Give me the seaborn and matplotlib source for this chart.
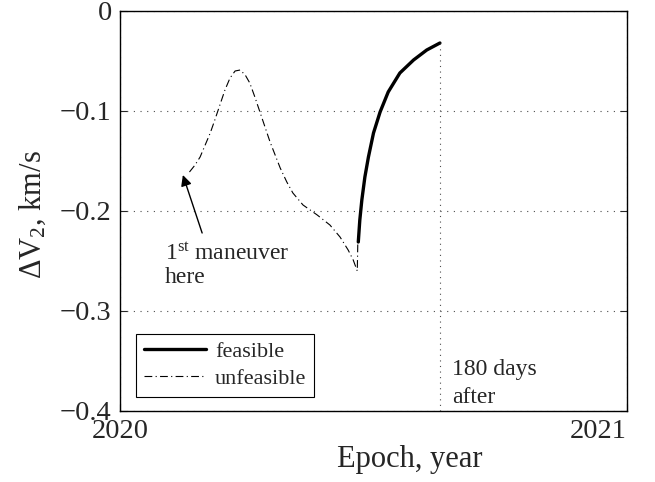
import matplotlib
matplotlib.use("Agg")
import matplotlib.pyplot as plt
import seaborn as sns
import pandas as pd

# Unfeasible branch: epoch (decimal year) and delta-V (km/s)
unf_epoch = [2020.137, 2020.148, 2020.158, 2020.168, 2020.178, 2020.187, 2020.197,
             2020.207, 2020.217, 2020.227, 2020.237, 2020.247, 2020.256, 2020.266,
             2020.276, 2020.286, 2020.296, 2020.306, 2020.316, 2020.329, 2020.341,
             2020.361, 2020.389, 2020.414, 2020.434, 2020.450, 2020.460, 2020.468,
             2020.469]
unf_dv = [-0.161, -0.154, -0.146, -0.134, -0.122, -0.109, -0.094,
          -0.079, -0.067, -0.060, -0.059, -0.064, -0.072, -0.086,
          -0.101, -0.116, -0.131, -0.144, -0.157, -0.171, -0.182,
          -0.194, -0.204, -0.214, -0.226, -0.239, -0.249, -0.260,
          -0.233]

# Feasible branch
feas_epoch = [2020.470, 2020.473, 2020.477, 2020.483, 2020.490, 2020.500,
              2020.513, 2020.529, 2020.552, 2020.579, 2020.605, 2020.631]
feas_dv = [-0.231, -0.209, -0.189, -0.166, -0.146, -0.122,
           -0.101, -0.081, -0.062, -0.049, -0.039, -0.032]

x_ticks = [2020, 2021]
x_ticklabels = ["2020", "2021"]
y_ticks = [-0.4, -0.3, -0.2, -0.1, 0.0]
y_ticklabels = ["\u22120.4", "\u22120.3", "\u22120.2", "\u22120.1", "0"]

sns.set_style("ticks")
plt.rcParams["font.family"] = ["Liberation Serif", "DejaVu Serif"]
plt.rcParams["mathtext.fontset"] = "custom"
plt.rcParams["mathtext.rm"] = "Liberation Serif"
plt.rcParams["mathtext.it"] = "Liberation Serif:italic"

fig = plt.figure(figsize=(6.55, 4.82), dpi=100)
ax = fig.add_axes([120 / 655, 71 / 482, 507 / 655, 400 / 482])

df_unf = pd.DataFrame({"epoch": unf_epoch, "dv": unf_dv})
df_feas = pd.DataFrame({"epoch": feas_epoch, "dv": feas_dv})

sns.lineplot(data=df_feas, x="epoch", y="dv", ax=ax, color="k", lw=2.4,
             sort=False, label="feasible")
sns.lineplot(data=df_unf, x="epoch", y="dv", ax=ax, color="k", lw=0.8,
             linestyle=(0, (7, 3, 1, 3)), sort=False, label="unfeasible")

# end of the 180-day window
ax.vlines(feas_epoch[-1], -0.4, feas_dv[-1], colors="0.3", linestyles=(0, (1, 4)), lw=0.8)

ax.set_xlim(2020, 2021)
ax.set_ylim(-0.4, 0)
ax.set_xticks(x_ticks)
ax.set_xticklabels(x_ticklabels)
ax.set_yticks(y_ticks)
ax.set_yticklabels(y_ticklabels)
ax.tick_params(direction="in", top=True, right=True, length=5, width=0.8,
               labelsize=20.5, pad=6)
xl = ax.get_xticklabels()
xl[1].set_horizontalalignment("right")
ax.grid(True, color="0.3", linestyle=(0, (1, 5)), lw=0.8)
for s in ax.spines.values():
    s.set_linewidth(1.0)
    s.set_color("k")

ax.set_xlabel("Epoch, year", fontsize=22)
ax.set_ylabel("\u0394V$_2$, km/s", fontsize=22)
ax.xaxis.set_label_coords(0.572, -0.085)
ax.yaxis.set_label_coords(-0.142, 0.49)

leg = ax.legend(loc="lower left", bbox_to_anchor=(0.0316, 0.035), borderaxespad=0,
                fancybox=False, edgecolor="k", framealpha=1, fontsize=16,
                handlelength=2.8, handletextpad=0.4, borderpad=0.35,
                labelspacing=0.3)
leg.get_frame().set_linewidth(0.8)

ax.annotate("", xy=(2020.124, -0.164), xytext=(2020.162, -0.222),
            arrowprops=dict(arrowstyle="-|>", color="k", lw=1.0,
                            mutation_scale=16, shrinkA=0, shrinkB=0))
ax.text(2020.089, -0.249, "1$^{\\rm st}$ maneuver", fontsize=17, va="baseline")
ax.text(2020.089, -0.272, "here", fontsize=17, va="baseline")
ax.text(2020.655, -0.364, "180 days", fontsize=17, va="baseline")
ax.text(2020.655, -0.392, "after", fontsize=17, va="baseline")

fig.savefig("out.png", dpi=100)
